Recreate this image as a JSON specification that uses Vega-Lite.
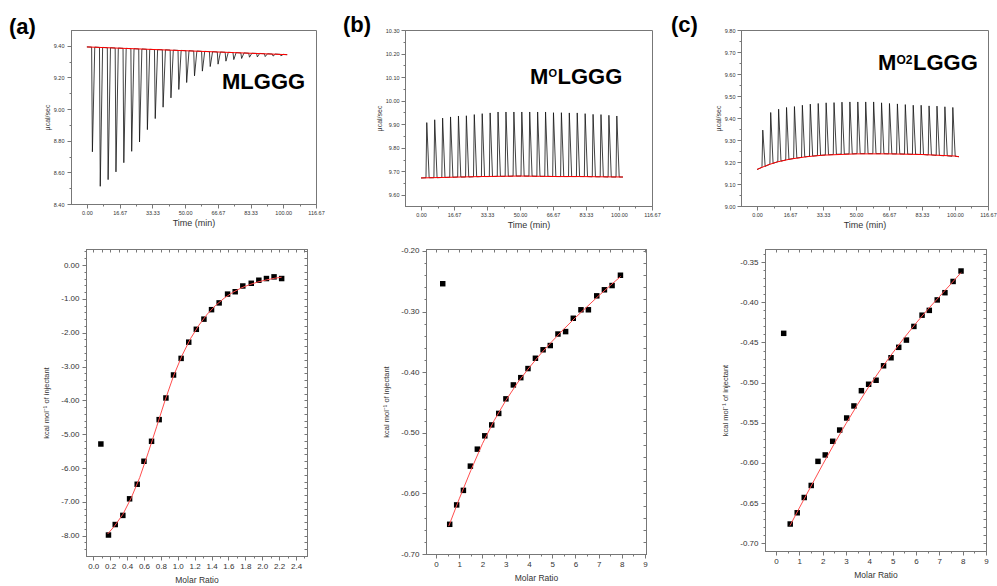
{
"$schema": "https://vega.github.io/schema/vega-lite/v6.json",
"padding": {"left": 8, "top": 13, "right": 2, "bottom": 2},
"background": "white",
"config": {
  "view": {"stroke": "#777", "strokeWidth": 1},
  "font": "Liberation Sans",
  "axis": {"grid": false, "domainColor": "#777", "tickColor": "#777", "labelColor": "#333", "titleColor": "#333", "labelFont": "Liberation Sans", "titleFont": "Liberation Sans", "titleFontWeight": "normal", "labelFlush": false, "labelOverlap": false, "tickWidth": 1, "domainWidth": 1}
},
"datasets": {
  "traceA": [{"t":0,"v":9.393},{"t":2.4,"v":9.392},{"t":2.8,"v":8.73},{"t":4,"v":9.392},{"t":6.4,"v":9.39},{"t":6.8,"v":8.512},{"t":8,"v":9.39},{"t":10.4,"v":9.388},{"t":10.8,"v":8.554},{"t":12,"v":9.388},{"t":14.4,"v":9.386},{"t":14.8,"v":8.603},{"t":16,"v":9.386},{"t":18.4,"v":9.384},{"t":18.8,"v":8.661},{"t":20,"v":9.384},{"t":22.4,"v":9.382},{"t":22.8,"v":8.733},{"t":24,"v":9.382},{"t":26.4,"v":9.38},{"t":26.8,"v":8.792},{"t":28,"v":9.38},{"t":30.4,"v":9.378},{"t":30.8,"v":8.87},{"t":32,"v":9.378},{"t":34.4,"v":9.376},{"t":34.8,"v":8.94},{"t":36,"v":9.376},{"t":38.4,"v":9.375},{"t":38.8,"v":9.012},{"t":40,"v":9.375},{"t":42.4,"v":9.373},{"t":42.8,"v":9.071},{"t":44,"v":9.373},{"t":46.4,"v":9.371},{"t":46.8,"v":9.124},{"t":48,"v":9.371},{"t":50.4,"v":9.369},{"t":50.8,"v":9.168},{"t":52,"v":9.369},{"t":54.4,"v":9.367},{"t":54.8,"v":9.21},{"t":56,"v":9.367},{"t":58.4,"v":9.365},{"t":58.8,"v":9.24},{"t":60,"v":9.365},{"t":62.4,"v":9.363},{"t":62.8,"v":9.269},{"t":64,"v":9.363},{"t":66.4,"v":9.361},{"t":66.8,"v":9.284},{"t":68,"v":9.361},{"t":70.4,"v":9.359},{"t":70.8,"v":9.303},{"t":72,"v":9.359},{"t":74.4,"v":9.357},{"t":74.8,"v":9.313},{"t":76,"v":9.357},{"t":78.4,"v":9.355},{"t":78.8,"v":9.32},{"t":80,"v":9.355},{"t":82.4,"v":9.353},{"t":82.8,"v":9.328},{"t":84,"v":9.353},{"t":86.4,"v":9.352},{"t":86.8,"v":9.33},{"t":88,"v":9.352},{"t":90.4,"v":9.35},{"t":90.8,"v":9.332},{"t":92,"v":9.35},{"t":94.4,"v":9.348},{"t":94.8,"v":9.335},{"t":96,"v":9.348},{"t":98.4,"v":9.346},{"t":98.8,"v":9.337},{"t":100,"v":9.346},{"t":102,"v":9.344}],
  "baseA": [{"t":0,"v":9.393},{"t":25,"v":9.381},{"t":50,"v":9.369},{"t":75,"v":9.357},{"t":102,"v":9.344}],
  "labA": [{"t":68.8,"v":9.128,"a":"MLGGG"}],
  "traceB": [{"t":0,"v":9.672},{"t":2.5,"v":9.673},{"t":2.9,"v":9.907},{"t":4.1,"v":9.673},{"t":6.5,"v":9.673},{"t":6.9,"v":9.919},{"t":8.1,"v":9.673},{"t":10.5,"v":9.674},{"t":10.9,"v":9.926},{"t":12.1,"v":9.674},{"t":14.5,"v":9.675},{"t":14.9,"v":9.931},{"t":16.1,"v":9.675},{"t":18.5,"v":9.676},{"t":18.9,"v":9.935},{"t":20.1,"v":9.676},{"t":22.5,"v":9.676},{"t":22.9,"v":9.936},{"t":24.1,"v":9.676},{"t":26.5,"v":9.677},{"t":26.9,"v":9.941},{"t":28.1,"v":9.677},{"t":30.5,"v":9.678},{"t":30.9,"v":9.945},{"t":32.1,"v":9.678},{"t":34.5,"v":9.678},{"t":34.9,"v":9.948},{"t":36.1,"v":9.678},{"t":38.5,"v":9.679},{"t":38.9,"v":9.952},{"t":40.1,"v":9.679},{"t":42.5,"v":9.679},{"t":42.9,"v":9.952},{"t":44.1,"v":9.679},{"t":46.5,"v":9.68},{"t":46.9,"v":9.952},{"t":48.1,"v":9.68},{"t":50.5,"v":9.68},{"t":50.9,"v":9.952},{"t":52.1,"v":9.68},{"t":54.5,"v":9.68},{"t":54.9,"v":9.952},{"t":56.1,"v":9.68},{"t":58.5,"v":9.679},{"t":58.9,"v":9.952},{"t":60.1,"v":9.679},{"t":62.5,"v":9.679},{"t":62.9,"v":9.952},{"t":64.1,"v":9.679},{"t":66.5,"v":9.678},{"t":66.9,"v":9.949},{"t":68.1,"v":9.678},{"t":70.5,"v":9.678},{"t":70.9,"v":9.949},{"t":72.1,"v":9.678},{"t":74.5,"v":9.678},{"t":74.9,"v":9.948},{"t":76.1,"v":9.678},{"t":78.5,"v":9.678},{"t":78.9,"v":9.948},{"t":80.1,"v":9.678},{"t":82.5,"v":9.678},{"t":82.9,"v":9.945},{"t":84.1,"v":9.678},{"t":86.5,"v":9.677},{"t":86.9,"v":9.942},{"t":88.1,"v":9.677},{"t":90.5,"v":9.677},{"t":90.9,"v":9.941},{"t":92.1,"v":9.677},{"t":94.5,"v":9.676},{"t":94.9,"v":9.938},{"t":96.1,"v":9.676},{"t":98.5,"v":9.676},{"t":98.9,"v":9.935},{"t":100.1,"v":9.676},{"t":102,"v":9.676}],
  "baseB": [{"t":0,"v":9.672},{"t":10,"v":9.674},{"t":20,"v":9.676},{"t":30,"v":9.678},{"t":40,"v":9.679},{"t":50,"v":9.68},{"t":60,"v":9.679},{"t":70,"v":9.678},{"t":80,"v":9.678},{"t":90,"v":9.677},{"t":102,"v":9.676}],
  "labB": [{"t":55.05,"v":10.071,"a":"M","b":"O","c":"LGGG"}],
  "traceC": [{"t":0,"v":9.166},{"t":2.5,"v":9.176},{"t":2.9,"v":9.345},{"t":4.1,"v":9.18},{"t":6.5,"v":9.19},{"t":6.9,"v":9.425},{"t":8.1,"v":9.194},{"t":10.5,"v":9.201},{"t":10.9,"v":9.44},{"t":12.1,"v":9.204},{"t":14.5,"v":9.209},{"t":14.9,"v":9.448},{"t":16.1,"v":9.212},{"t":18.5,"v":9.216},{"t":18.9,"v":9.452},{"t":20.1,"v":9.218},{"t":22.5,"v":9.221},{"t":22.9,"v":9.458},{"t":24.1,"v":9.223},{"t":26.5,"v":9.226},{"t":26.9,"v":9.463},{"t":28.1,"v":9.227},{"t":30.5,"v":9.229},{"t":30.9,"v":9.466},{"t":32.1,"v":9.23},{"t":34.5,"v":9.232},{"t":34.9,"v":9.469},{"t":36.1,"v":9.233},{"t":38.5,"v":9.234},{"t":38.9,"v":9.47},{"t":40.1,"v":9.235},{"t":42.5,"v":9.236},{"t":42.9,"v":9.472},{"t":44.1,"v":9.236},{"t":46.5,"v":9.237},{"t":46.9,"v":9.473},{"t":48.1,"v":9.237},{"t":50.5,"v":9.238},{"t":50.9,"v":9.473},{"t":52.1,"v":9.238},{"t":54.5,"v":9.238},{"t":54.9,"v":9.473},{"t":56.1,"v":9.238},{"t":58.5,"v":9.238},{"t":58.9,"v":9.473},{"t":60.1,"v":9.238},{"t":62.5,"v":9.238},{"t":62.9,"v":9.469},{"t":64.1,"v":9.238},{"t":66.5,"v":9.237},{"t":66.9,"v":9.466},{"t":68.1,"v":9.237},{"t":70.5,"v":9.237},{"t":70.9,"v":9.464},{"t":72.1,"v":9.237},{"t":74.5,"v":9.236},{"t":74.9,"v":9.461},{"t":76.1,"v":9.236},{"t":78.5,"v":9.235},{"t":78.9,"v":9.458},{"t":80.1,"v":9.235},{"t":82.5,"v":9.234},{"t":82.9,"v":9.458},{"t":84.1,"v":9.234},{"t":86.5,"v":9.232},{"t":86.9,"v":9.455},{"t":88.1,"v":9.232},{"t":90.5,"v":9.23},{"t":90.9,"v":9.454},{"t":92.1,"v":9.23},{"t":94.5,"v":9.228},{"t":94.9,"v":9.451},{"t":96.1,"v":9.228},{"t":98.5,"v":9.226},{"t":98.9,"v":9.448},{"t":100.1,"v":9.226},{"t":102,"v":9.224}],
  "baseC": [{"t":0,"v":9.166},{"t":5,"v":9.185},{"t":10,"v":9.2},{"t":16.67,"v":9.213},{"t":25,"v":9.224},{"t":33.33,"v":9.231},{"t":50,"v":9.237},{"t":66.67,"v":9.237},{"t":83.33,"v":9.234},{"t":100,"v":9.227},{"t":102,"v":9.224}],
  "labC": [{"t":61.1,"v":9.618,"a":"M","b":"O2","c":"LGGG"}],
  "ptsA": [{"x":0.09,"y":-5.29},{"x":0.18,"y":-7.98},{"x":0.26,"y":-7.67},{"x":0.35,"y":-7.4},{"x":0.43,"y":-6.91},{"x":0.52,"y":-6.48},{"x":0.6,"y":-5.8},{"x":0.69,"y":-5.21},{"x":0.78,"y":-4.57},{"x":0.86,"y":-3.93},{"x":0.95,"y":-3.25},{"x":1.04,"y":-2.76},{"x":1.13,"y":-2.28},{"x":1.22,"y":-1.9},{"x":1.31,"y":-1.6},{"x":1.4,"y":-1.32},{"x":1.49,"y":-1.12},{"x":1.59,"y":-0.86},{"x":1.68,"y":-0.79},{"x":1.77,"y":-0.62},{"x":1.87,"y":-0.54},{"x":1.96,"y":-0.45},{"x":2.05,"y":-0.4},{"x":2.14,"y":-0.35},{"x":2.23,"y":-0.4}],
  "fitA": [{"x":0.17,"y":-7.95},{"x":0.25,"y":-7.72},{"x":0.35,"y":-7.37},{"x":0.45,"y":-6.88},{"x":0.55,"y":-6.28},{"x":0.65,"y":-5.55},{"x":0.75,"y":-4.78},{"x":0.85,"y":-4.0},{"x":0.95,"y":-3.28},{"x":1.05,"y":-2.68},{"x":1.15,"y":-2.18},{"x":1.25,"y":-1.78},{"x":1.35,"y":-1.45},{"x":1.45,"y":-1.19},{"x":1.55,"y":-0.98},{"x":1.65,"y":-0.81},{"x":1.75,"y":-0.68},{"x":1.85,"y":-0.58},{"x":1.95,"y":-0.5},{"x":2.05,"y":-0.44},{"x":2.15,"y":-0.39},{"x":2.23,"y":-0.36}],
  "ptsB": [{"x":0.29,"y":-0.254},{"x":0.59,"y":-0.651},{"x":0.89,"y":-0.619},{"x":1.18,"y":-0.595},{"x":1.48,"y":-0.555},{"x":1.78,"y":-0.527},{"x":2.1,"y":-0.505},{"x":2.4,"y":-0.487},{"x":2.7,"y":-0.468},{"x":3.01,"y":-0.444},{"x":3.33,"y":-0.421},{"x":3.65,"y":-0.409},{"x":3.96,"y":-0.394},{"x":4.28,"y":-0.377},{"x":4.61,"y":-0.363},{"x":4.92,"y":-0.356},{"x":5.25,"y":-0.337},{"x":5.58,"y":-0.333},{"x":5.91,"y":-0.311},{"x":6.24,"y":-0.297},{"x":6.56,"y":-0.297},{"x":6.92,"y":-0.274},{"x":7.25,"y":-0.264},{"x":7.58,"y":-0.257},{"x":7.94,"y":-0.24}],
  "fitB": [{"x":0.55,"y":-0.654},{"x":1.0,"y":-0.609},{"x":1.5,"y":-0.562},{"x":2.0,"y":-0.518},{"x":2.5,"y":-0.48},{"x":3.0,"y":-0.447},{"x":3.5,"y":-0.418},{"x":4.0,"y":-0.393},{"x":4.5,"y":-0.37},{"x":5.0,"y":-0.349},{"x":5.5,"y":-0.329},{"x":6.0,"y":-0.31},{"x":6.5,"y":-0.292},{"x":7.0,"y":-0.274},{"x":7.5,"y":-0.257},{"x":7.95,"y":-0.242}],
  "ptsC": [{"x":0.33,"y":-0.4386},{"x":0.61,"y":-0.676},{"x":0.91,"y":-0.662},{"x":1.21,"y":-0.643},{"x":1.51,"y":-0.628},{"x":1.8,"y":-0.598},{"x":2.11,"y":-0.59},{"x":2.43,"y":-0.573},{"x":2.73,"y":-0.559},{"x":3.03,"y":-0.544},{"x":3.34,"y":-0.529},{"x":3.66,"y":-0.51},{"x":3.97,"y":-0.502},{"x":4.29,"y":-0.497},{"x":4.61,"y":-0.479},{"x":4.93,"y":-0.469},{"x":5.26,"y":-0.456},{"x":5.59,"y":-0.447},{"x":5.91,"y":-0.43},{"x":6.26,"y":-0.416},{"x":6.57,"y":-0.41},{"x":6.91,"y":-0.397},{"x":7.24,"y":-0.388},{"x":7.59,"y":-0.374},{"x":7.93,"y":-0.361}],
  "fitC": [{"x":0.6,"y":-0.678},{"x":1.0,"y":-0.656},{"x":1.5,"y":-0.629},{"x":2.0,"y":-0.602},{"x":2.5,"y":-0.576},{"x":3.0,"y":-0.551},{"x":3.5,"y":-0.527},{"x":4.0,"y":-0.504},{"x":4.5,"y":-0.483},{"x":5.0,"y":-0.463},{"x":5.5,"y":-0.444},{"x":6.0,"y":-0.426},{"x":6.5,"y":-0.409},{"x":7.0,"y":-0.393},{"x":7.5,"y":-0.377},{"x":7.93,"y":-0.363}],
  "blank": [{"z":0}]
},
"spacing": 16,
"vconcat": [
 {"hconcat": [
  {"width": 245, "height": 174,
   "title": {"text": "(a)", "anchor": "start", "frame": "group", "offset": 0, "dx": -62, "dy": 26, "baseline": "alphabetic", "fontSize": 22, "fontWeight": "bold", "font": "Liberation Sans", "color": "#000"},
   "resolve": {"axis": {"x": "independent", "y": "independent"}},
   "layer": [
    {"data": {"name": "traceA"}, "mark": {"type": "line", "color": "#111", "strokeWidth": 0.8},
     "encoding": {
      "x": {"field": "t", "type": "quantitative", "scale": {"domain": [-8.1, 116.67], "nice": false, "zero": false},
            "axis": {"orient": "bottom", "title": "Time (min)", "titleFontSize": 9, "titlePadding": 3, "labelFontSize": 5.5, "labelPadding": 2, "tickSize": 4, "format": ".2f", "values": [0,16.67,33.33,50,66.67,83.33,100,116.67]}},
      "y": {"field": "v", "type": "quantitative", "scale": {"domain": [8.4, 9.5], "nice": false, "zero": false},
            "axis": {"orient": "left", "title": "µcal/sec", "titleFontSize": 7, "titlePadding": 3, "labelFontSize": 5.5, "labelPadding": 3, "tickSize": 4, "format": ".2f", "values": [8.4,8.6,8.8,9,9.2,9.4]}}
     }},
    {"data": {"name": "baseA"}, "mark": {"type": "line", "color": "#ff0000", "strokeWidth": 1},
     "encoding": {"x": {"field": "t", "type": "quantitative", "axis": {"orient": "bottom", "labels": false, "title": null, "tickSize": 2, "values": [8.33,25,41.67,58.33,75,91.67,108.33]}},
                  "y": {"field": "v", "type": "quantitative", "axis": {"orient": "left", "labels": false, "title": null, "tickSize": 2, "values": [8.5,8.7,8.9,9.1,9.3]}}}},
    {"data": {"name": "labA"}, "mark": {"type": "text", "fontSize": 22, "fontWeight": "bold", "font": "Liberation Sans", "align": "left", "baseline": "alphabetic", "color": "#000"},
     "encoding": {"x": {"field": "t", "type": "quantitative", "axis": null}, "y": {"field": "v", "type": "quantitative", "axis": null}, "text": {"field": "a"}}}
   ]},
  {"width": 247, "height": 176,
   "title": {"text": "(b)", "anchor": "start", "frame": "group", "offset": 0, "dx": -62, "dy": 26, "baseline": "alphabetic", "fontSize": 22, "fontWeight": "bold", "font": "Liberation Sans", "color": "#000"},
   "resolve": {"axis": {"x": "independent", "y": "independent"}},
   "layer": [
    {"data": {"name": "traceB"}, "mark": {"type": "line", "color": "#111", "strokeWidth": 0.8},
     "encoding": {
      "x": {"field": "t", "type": "quantitative", "scale": {"domain": [-8.1, 116.67], "nice": false, "zero": false},
            "axis": {"orient": "bottom", "title": "Time (min)", "titleFontSize": 9, "titlePadding": 3, "labelFontSize": 5.5, "labelPadding": 2, "tickSize": 4, "format": ".2f", "values": [0,16.67,33.33,50,66.67,83.33,100,116.67]}},
      "y": {"field": "v", "type": "quantitative", "scale": {"domain": [9.553, 10.3], "nice": false, "zero": false},
            "axis": {"orient": "left", "title": "µcal/sec", "titleFontSize": 7, "titlePadding": 3, "labelFontSize": 5.5, "labelPadding": 2, "tickSize": 4, "format": ".2f", "values": [9.6,9.7,9.8,9.9,10,10.1,10.2,10.3]}}
     }},
    {"data": {"name": "baseB"}, "mark": {"type": "line", "color": "#ff0000", "strokeWidth": 1},
     "encoding": {"x": {"field": "t", "type": "quantitative", "axis": {"orient": "bottom", "labels": false, "title": null, "tickSize": 2, "values": [8.33,25,41.67,58.33,75,91.67,108.33]}},
                  "y": {"field": "v", "type": "quantitative", "axis": {"orient": "left", "labels": false, "title": null, "tickSize": 2, "values": [9.65,9.75,9.85,9.95,10.05,10.15,10.25]}}}},
    {"data": {"name": "labB"}, "mark": {"type": "text", "fontSize": 22, "fontWeight": "bold", "font": "Liberation Sans", "align": "left", "baseline": "alphabetic", "color": "#000"},
     "encoding": {"x": {"field": "t", "type": "quantitative", "axis": null}, "y": {"field": "v", "type": "quantitative", "axis": null}, "text": {"field": "a"}}},
    {"data": {"name": "labB"}, "mark": {"type": "text", "fontSize": 11, "fontWeight": "bold", "font": "Liberation Sans", "align": "left", "baseline": "alphabetic", "color": "#000", "dx": 18.5, "dy": -7},
     "encoding": {"x": {"field": "t", "type": "quantitative", "axis": null}, "y": {"field": "v", "type": "quantitative", "axis": null}, "text": {"field": "b"}}},
    {"data": {"name": "labB"}, "mark": {"type": "text", "fontSize": 22, "fontWeight": "bold", "font": "Liberation Sans", "align": "left", "baseline": "alphabetic", "color": "#000", "dx": 27.5},
     "encoding": {"x": {"field": "t", "type": "quantitative", "axis": null}, "y": {"field": "v", "type": "quantitative", "axis": null}, "text": {"field": "c"}}}
   ]},
  {"width": 247, "height": 176,
   "title": {"text": "(c)", "anchor": "start", "frame": "group", "offset": 0, "dx": -70, "dy": 26, "baseline": "alphabetic", "fontSize": 22, "fontWeight": "bold", "font": "Liberation Sans", "color": "#000"},
   "resolve": {"axis": {"x": "independent", "y": "independent"}},
   "layer": [
    {"data": {"name": "traceC"}, "mark": {"type": "line", "color": "#111", "strokeWidth": 0.8},
     "encoding": {
      "x": {"field": "t", "type": "quantitative", "scale": {"domain": [-8.1, 116.67], "nice": false, "zero": false},
            "axis": {"orient": "bottom", "title": "Time (min)", "titleFontSize": 9, "titlePadding": 3, "labelFontSize": 5.5, "labelPadding": 2, "tickSize": 4, "format": ".2f", "values": [0,16.67,33.33,50,66.67,83.33,100,116.67]}},
      "y": {"field": "v", "type": "quantitative", "scale": {"domain": [9.0, 9.8], "nice": false, "zero": false},
            "axis": {"orient": "left", "title": "µcal/sec", "titleFontSize": 7, "titlePadding": 3, "labelFontSize": 5.5, "labelPadding": 2, "tickSize": 4, "format": ".2f", "values": [9,9.1,9.2,9.3,9.4,9.5,9.6,9.7,9.8]}}
     }},
    {"data": {"name": "baseC"}, "mark": {"type": "line", "color": "#ff0000", "strokeWidth": 1},
     "encoding": {"x": {"field": "t", "type": "quantitative", "axis": {"orient": "bottom", "labels": false, "title": null, "tickSize": 2, "values": [8.33,25,41.67,58.33,75,91.67,108.33]}},
                  "y": {"field": "v", "type": "quantitative", "axis": {"orient": "left", "labels": false, "title": null, "tickSize": 2, "values": [9.05,9.15,9.25,9.35,9.45,9.55,9.65,9.75]}}}},
    {"data": {"name": "labC"}, "mark": {"type": "text", "fontSize": 22, "fontWeight": "bold", "font": "Liberation Sans", "align": "left", "baseline": "alphabetic", "color": "#000"},
     "encoding": {"x": {"field": "t", "type": "quantitative", "axis": null}, "y": {"field": "v", "type": "quantitative", "axis": null}, "text": {"field": "a"}}},
    {"data": {"name": "labC"}, "mark": {"type": "text", "fontSize": 12, "fontWeight": "bold", "font": "Liberation Sans", "align": "left", "baseline": "alphabetic", "color": "#000", "dx": 18.5, "dy": -6},
     "encoding": {"x": {"field": "t", "type": "quantitative", "axis": null}, "y": {"field": "v", "type": "quantitative", "axis": null}, "text": {"field": "b"}}},
    {"data": {"name": "labC"}, "mark": {"type": "text", "fontSize": 22, "fontWeight": "bold", "font": "Liberation Sans", "align": "left", "baseline": "alphabetic", "color": "#000", "dx": 35},
     "encoding": {"x": {"field": "t", "type": "quantitative", "axis": null}, "y": {"field": "v", "type": "quantitative", "axis": null}, "text": {"field": "c"}}}
   ]}
 ], "spacing": 89, "bounds": "flush"},
 {"hconcat": [
  {"width": 15, "height": 1, "view": {"stroke": null}, "data": {"name": "blank"}, "mark": {"type": "point", "opacity": 0, "size": 1}, "encoding": {}},
  {"hconcat": [
   {"width": 221, "height": 307,
    "resolve": {"axis": {"x": "independent", "y": "independent"}},
    "layer": [
     {"data": {"name": "ptsA"}, "mark": {"type": "point", "shape": "square", "filled": true, "color": "#000", "size": 30, "opacity": 1},
      "encoding": {
       "x": {"field": "x", "type": "quantitative", "scale": {"domain": [-0.086, 2.53], "nice": false, "zero": false},
             "axis": {"orient": "bottom", "title": "Molar Ratio", "titleFontSize": 8.5, "titlePadding": 5, "labelFontSize": 8, "labelPadding": 2, "tickSize": 4, "format": ".1f", "values": [0,0.2,0.4,0.6,0.8,1,1.2,1.4,1.6,1.8,2,2.2,2.4]}},
       "y": {"field": "y", "type": "quantitative", "scale": {"domain": [-8.6, 0.473], "nice": false, "zero": false},
             "axis": {"orient": "left", "title": "kcal mol⁻¹ of injectant", "titleFontSize": 7.5, "titlePadding": 10, "labelFontSize": 8, "labelPadding": 3, "tickSize": 4, "format": ".2f", "labelExpr": "replace(datum.label, '\u2212', '-')", "values": [-8,-7,-6,-5,-4,-3,-2,-1,0]}}
      }},
     {"data": {"name": "fitA"}, "mark": {"type": "line", "color": "#ff4d4d", "strokeWidth": 1},
      "encoding": {
       "x": {"field": "x", "type": "quantitative", "axis": {"orient": "top", "labels": false, "title": null, "tickSize": -3, "values": [0,0.1,0.2,0.3,0.4,0.5,0.6,0.7,0.8,0.9,1,1.1,1.2,1.3,1.4,1.5,1.6,1.7,1.8,1.9,2,2.1,2.2,2.3,2.4,2.5]}},
       "y": {"field": "y", "type": "quantitative", "axis": {"orient": "right", "labels": false, "title": null, "tickSize": -3, "values": [-8.4,-8.2,-8,-7.8,-7.6,-7.4,-7.2,-7,-6.8,-6.6,-6.4,-6.2,-6,-5.8,-5.6,-5.4,-5.2,-5,-4.8,-4.6,-4.4,-4.2,-4,-3.8,-3.6,-3.4,-3.2,-3,-2.8,-2.6,-2.4,-2.2,-2,-1.8,-1.6,-1.4,-1.2,-1,-0.8,-0.6,-0.4,-0.2,0,0.2,0.4]}}
      }},
     {"data": {"name": "ptsA"}, "mark": {"type": "point", "opacity": 0, "size": 1},
      "encoding": {
       "x": {"field": "x", "type": "quantitative", "axis": {"orient": "bottom", "labels": false, "title": null, "tickSize": 2, "values": [0.1,0.3,0.5,0.7,0.9,1.1,1.3,1.5,1.7,1.9,2.1,2.3,2.5]}},
       "y": {"field": "y", "type": "quantitative", "axis": {"orient": "left", "labels": false, "title": null, "tickSize": 2, "values": [-8.4,-8.2,-7.8,-7.6,-7.4,-7.2,-6.8,-6.6,-6.4,-6.2,-5.8,-5.6,-5.4,-5.2,-4.8,-4.6,-4.4,-4.2,-3.8,-3.6,-3.4,-3.2,-2.8,-2.6,-2.4,-2.2,-1.8,-1.6,-1.4,-1.2,-0.8,-0.6,-0.4,-0.2,0.2,0.4]}}
      }}
    ]},
   {"width": 220, "height": 305,
    "resolve": {"axis": {"x": "independent", "y": "independent"}},
    "layer": [
     {"data": {"name": "ptsB"}, "mark": {"type": "point", "shape": "square", "filled": true, "color": "#000", "size": 30, "opacity": 1},
      "encoding": {
       "x": {"field": "x", "type": "quantitative", "scale": {"domain": [-0.43, 9.04], "nice": false, "zero": false},
             "axis": {"orient": "bottom", "title": "Molar Ratio", "titleFontSize": 8.5, "titlePadding": 5, "labelFontSize": 8, "labelPadding": 2, "tickSize": 4, "format": "d", "values": [0,1,2,3,4,5,6,7,8,9]}},
       "y": {"field": "y", "type": "quantitative", "scale": {"domain": [-0.7, -0.1967], "nice": false, "zero": false},
             "axis": {"orient": "left", "title": "kcal mol⁻¹ of injectant", "titleFontSize": 7.5, "titlePadding": 10, "labelFontSize": 8, "labelPadding": 3, "tickSize": 4, "format": ".2f", "labelExpr": "replace(datum.label, '\u2212', '-')", "values": [-0.7,-0.6,-0.5,-0.4,-0.3,-0.2]}}
      }},
     {"data": {"name": "fitB"}, "mark": {"type": "line", "color": "#ff4d4d", "strokeWidth": 1},
      "encoding": {
       "x": {"field": "x", "type": "quantitative", "axis": {"orient": "top", "labels": false, "title": null, "tickSize": -3, "values": [0,0.5,1,1.5,2,2.5,3,3.5,4,4.5,5,5.5,6,6.5,7,7.5,8,8.5,9]}},
       "y": {"field": "y", "type": "quantitative", "axis": {"orient": "right", "labels": false, "title": null, "tickSize": -3, "values": [-0.7,-0.68,-0.66,-0.64,-0.62,-0.6,-0.58,-0.56,-0.54,-0.52,-0.5,-0.48,-0.46,-0.44,-0.42,-0.4,-0.38,-0.36,-0.34,-0.32,-0.3,-0.28,-0.26,-0.24,-0.22,-0.2]}}
      }},
     {"data": {"name": "ptsB"}, "mark": {"type": "point", "opacity": 0, "size": 1},
      "encoding": {
       "x": {"field": "x", "type": "quantitative", "axis": {"orient": "bottom", "labels": false, "title": null, "tickSize": 2, "values": [0.5,1.5,2.5,3.5,4.5,5.5,6.5,7.5,8.5]}},
       "y": {"field": "y", "type": "quantitative", "axis": {"orient": "left", "labels": false, "title": null, "tickSize": 2, "values": [-0.68,-0.66,-0.64,-0.62,-0.58,-0.56,-0.54,-0.52,-0.48,-0.46,-0.44,-0.42,-0.38,-0.36,-0.34,-0.32,-0.28,-0.26,-0.24,-0.22]}}
      }}
    ]},
   {"width": 221, "height": 302,
    "resolve": {"axis": {"x": "independent", "y": "independent"}},
    "layer": [
     {"data": {"name": "ptsC"}, "mark": {"type": "point", "shape": "square", "filled": true, "color": "#000", "size": 30, "opacity": 1},
      "encoding": {
       "x": {"field": "x", "type": "quantitative", "scale": {"domain": [-0.471, 9.0], "nice": false, "zero": false},
             "axis": {"orient": "bottom", "title": "Molar Ratio", "titleFontSize": 8.5, "titlePadding": 5, "labelFontSize": 8, "labelPadding": 2, "tickSize": 4, "format": "d", "values": [0,1,2,3,4,5,6,7,8,9]}},
       "y": {"field": "y", "type": "quantitative", "scale": {"domain": [-0.7096, -0.3336], "nice": false, "zero": false},
             "axis": {"orient": "left", "title": "kcal mol⁻¹ of injectant", "titleFontSize": 7.5, "titlePadding": 10, "labelFontSize": 8, "labelPadding": 3, "tickSize": 4, "format": ".2f", "labelExpr": "replace(datum.label, '\u2212', '-')", "values": [-0.7,-0.65,-0.6,-0.55,-0.5,-0.45,-0.4,-0.35]}}
      }},
     {"data": {"name": "fitC"}, "mark": {"type": "line", "color": "#ff4d4d", "strokeWidth": 1},
      "encoding": {
       "x": {"field": "x", "type": "quantitative", "axis": {"orient": "top", "labels": false, "title": null, "tickSize": -3, "values": [0,0.5,1,1.5,2,2.5,3,3.5,4,4.5,5,5.5,6,6.5,7,7.5,8,8.5,9]}},
       "y": {"field": "y", "type": "quantitative", "axis": {"orient": "right", "labels": false, "title": null, "tickSize": -3, "values": [-0.7,-0.69,-0.68,-0.67,-0.66,-0.65,-0.64,-0.63,-0.62,-0.61,-0.6,-0.59,-0.58,-0.57,-0.56,-0.55,-0.54,-0.53,-0.52,-0.51,-0.5,-0.49,-0.48,-0.47,-0.46,-0.45,-0.44,-0.43,-0.42,-0.41,-0.4,-0.39,-0.38,-0.37,-0.36,-0.35,-0.34]}}
      }},
     {"data": {"name": "ptsC"}, "mark": {"type": "point", "opacity": 0, "size": 1},
      "encoding": {
       "x": {"field": "x", "type": "quantitative", "axis": {"orient": "bottom", "labels": false, "title": null, "tickSize": 2, "values": [0.5,1.5,2.5,3.5,4.5,5.5,6.5,7.5,8.5]}},
       "y": {"field": "y", "type": "quantitative", "axis": {"orient": "left", "labels": false, "title": null, "tickSize": 2, "values": [-0.69,-0.68,-0.67,-0.66,-0.64,-0.63,-0.62,-0.61,-0.59,-0.58,-0.57,-0.56,-0.54,-0.53,-0.52,-0.51,-0.49,-0.48,-0.47,-0.46,-0.44,-0.43,-0.42,-0.41,-0.39,-0.38,-0.37,-0.36,-0.34]}}
      }}
    ]}
  ], "spacing": 119, "bounds": "flush"}
 ], "spacing": 0, "bounds": "flush"}
]
}
